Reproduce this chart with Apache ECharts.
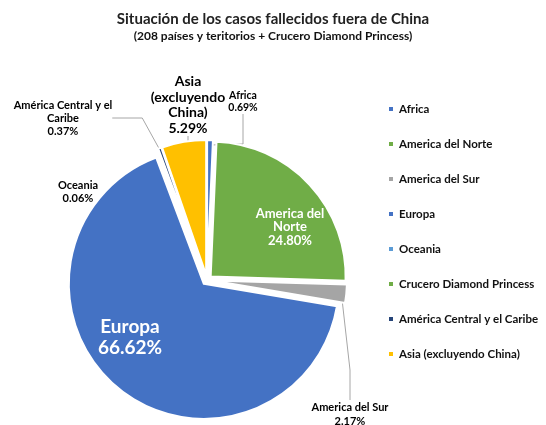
<!DOCTYPE html>
<html>
<head>
<meta charset="utf-8">
<script src="https://cdn.jsdelivr.net/npm/echarts@6/dist/echarts.min.js"></script>
<style>
  html, body { margin: 0; padding: 0; background: #fff; }
  #chart { width: 546px; height: 425px; }
</style>
</head>
<body>
<div id="chart"></div>
<script>
// datos del grafico
const regiones = ['Africa', 'America del Norte', 'America del Sur', 'Europa', 'Oceania',
  'Crucero Diamond Princess', 'América Central y el Caribe', 'Asia (excluyendo China)']
const porcentajes = [0.69, 24.80, 2.17, 66.62, 0.06, 0.02, 0.37, 5.29]
const etiquetas = ['Africa', 'America del\nNorte', 'America del Sur', 'Europa', 'Oceania',
  '', 'América Central y el\nCaribe', 'Asia\n(excluyendo\nChina)']
const colores = ['#4472C4', '#70AD47', '#A5A5A5', '#4472C4', '#5B9BD5', '#70AD47', '#264478', '#FFC000']

const fuente = 'Lato'

// posicion de cada etiqueta (x, y del centro del bloque de texto)
const posEtiquetas = [
  [243, 102], [290, 227], [350, 414], [130, 337],
  [78, 192], [0, 0], [63, 118], [188, 105]
]

// estilo de cada etiqueta
const estiloEtiquetas = [
  { fontSize: 10.5, lineHeight: 12, color: '#000', fontWeight: 'bold' },
  { fontSize: 13, lineHeight: 13.5, color: '#fff', fontWeight: 'bold', position: 'inside', width: 100 },
  { fontSize: 11, lineHeight: 14, color: '#000', fontWeight: 'bold' },
  { fontSize: 19, lineHeight: 21, color: '#fff', fontWeight: 'bold', position: 'inside', width: 100 },
  { fontSize: 11, lineHeight: 13, color: '#000', fontWeight: 'bold' },
  { fontSize: 10, lineHeight: 12, color: '#000', fontWeight: 'bold' },
  { fontSize: 11, lineHeight: 13, color: '#000', fontWeight: 'bold' },
  { fontSize: 14, lineHeight: 15.5, color: '#000', fontWeight: 'bold' }
]
const sinLinea = [false, true, false, true, true, true, false, false]

let myChart = echarts.init(document.getElementById('chart'))

// sectores separados (explotados)
const sectores = regiones.map((r, i) => ({
  name: r,
  value: porcentajes[i],
  selected: true,
  itemStyle: { color: colores[i] }
}))

// misma serie invisible solo para las etiquetas
const textos = regiones.map((r, i) => ({
  name: r,
  value: porcentajes[i],
  label: Object.assign({
    show: etiquetas[i] !== '',
    position: 'outside',
    align: 'center',
    overflow: 'none',
    fontFamily: fuente,
    formatter: etiquetas[i] + '\n' + porcentajes[i].toFixed(2) + '%'
  }, estiloEtiquetas[i]),
  labelLine: { show: !sinLinea[i] }
}))

const options = {
  animation: false,
  title: {
    text: 'Situación de los casos fallecidos fuera de China',
    subtext: '(208 países y teritorios + Crucero Diamond Princess)',
    left: 'center',
    top: 7,
    itemGap: 3,
    textStyle: { fontFamily: fuente, fontSize: 15, fontWeight: 'bold', color: '#222' },
    subtextStyle: { fontFamily: fuente, fontSize: 12, fontWeight: 'bold', color: '#111' }
  },
  legend: {
    orient: 'vertical',
    left: 382,
    top: 97,
    icon: 'rect',
    itemWidth: 6,
    itemHeight: 6,
    itemGap: 21,
    data: regiones.map((r, i) => ({ name: r, itemStyle: { color: colores[i], opacity: 1 } })),
    textStyle: { fontFamily: fuente, fontSize: 11.5, fontWeight: 'bold', color: '#111', lineHeight: 14 }
  },
  series: [
    {
      type: 'pie',
      center: [207, 280],
      radius: [0, 135],
      startAngle: 90,
      clockwise: true,
      selectedMode: 'multiple',
      selectedOffset: 5,
      itemStyle: { borderColor: '#fff', borderWidth: 2 },
      label: { show: false },
      labelLine: { show: false },
      emphasis: { disabled: true },
      data: sectores
    },
    {
      type: 'pie',
      center: [207, 280],
      radius: [0, 135],
      startAngle: 90,
      clockwise: true,
      silent: true,
      avoidLabelOverlap: false,
      itemStyle: { color: 'rgba(0,0,0,0)', borderWidth: 0 },
      labelLine: { lineStyle: { color: '#A6A6A6', width: 1 } },
      emphasis: { disabled: true },
      labelLayout: function (p) {
        const pos = posEtiquetas[p.dataIndex]
        return { x: pos[0], y: pos[1], align: 'center', verticalAlign: 'middle' }
      },
      data: textos
    }
  ]
}
myChart.setOption(options)
</script>
</body>
</html>
